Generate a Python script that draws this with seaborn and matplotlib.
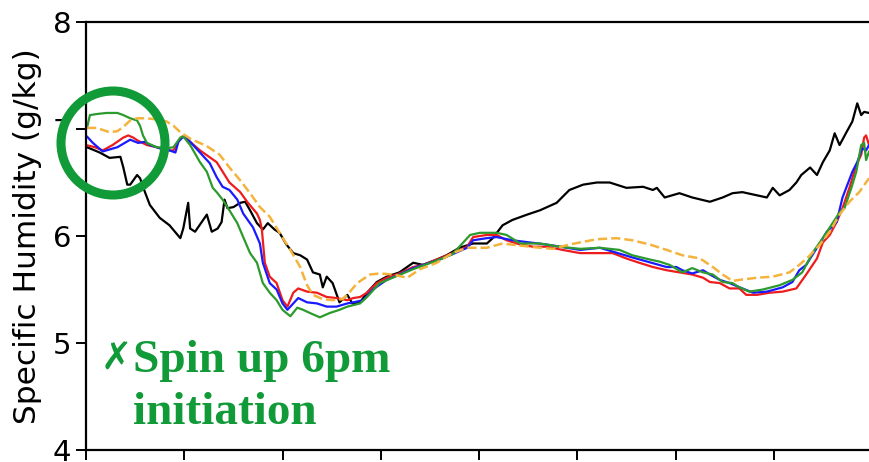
import matplotlib
matplotlib.use("Agg")
import matplotlib.pyplot as plt
from matplotlib.patches import Ellipse
import seaborn as sns
import pandas as pd

# Specific humidity (g/kg) against time (tick units)
obs_t = [0.00, 0.01, 0.14, 0.24, 0.35, 0.38, 0.42, 0.45, 0.52, 0.55, 0.60, 0.65, 0.75, 0.85,
         0.96, 0.99, 1.04, 1.06, 1.11, 1.23, 1.28, 1.34, 1.38, 1.41, 1.44, 1.50, 1.57, 1.62,
         1.67, 1.74, 1.80, 1.85, 1.92, 1.97, 2.04, 2.11, 2.18, 2.25, 2.31, 2.38, 2.41, 2.45,
         2.51, 2.58, 2.66, 2.71, 2.79, 2.86, 2.96, 3.06, 3.19, 3.33, 3.43, 3.57, 3.67, 3.80,
         3.94, 4.08, 4.14, 4.24, 4.34, 4.49, 4.62, 4.79, 4.92, 5.06, 5.20, 5.33, 5.50, 5.67,
         5.77, 5.81, 5.89, 6.04, 6.17, 6.35, 6.48, 6.58, 6.68, 6.83, 6.93, 6.99, 7.06, 7.16,
         7.23, 7.28, 7.37, 7.44, 7.50, 7.57, 7.62, 7.67, 7.74, 7.80, 7.85, 7.89, 7.92, 7.97]
obs_q = [6.82, 6.83, 6.78, 6.73, 6.74, 6.64, 6.48, 6.48, 6.57, 6.54, 6.41, 6.29, 6.17, 6.10,
         5.98, 6.07, 6.31, 6.07, 6.04, 6.20, 6.04, 6.07, 6.13, 6.34, 6.26, 6.27, 6.31, 6.32,
         6.24, 6.12, 6.06, 6.12, 6.06, 6.03, 5.92, 5.84, 5.82, 5.78, 5.66, 5.64, 5.52, 5.62,
         5.56, 5.38, 5.45, 5.37, 5.38, 5.47, 5.57, 5.62, 5.66, 5.75, 5.73, 5.78, 5.82, 5.89,
         5.93, 5.93, 5.98, 6.10, 6.15, 6.20, 6.24, 6.31, 6.43, 6.48, 6.50, 6.50, 6.45, 6.46,
         6.43, 6.45, 6.36, 6.40, 6.36, 6.32, 6.36, 6.40, 6.41, 6.38, 6.36, 6.45, 6.38, 6.43,
         6.50, 6.57, 6.64, 6.57, 6.69, 6.80, 6.96, 6.85, 6.97, 7.07, 7.24, 7.13, 7.16, 7.15]

red_t = [0.00, 0.09, 0.17, 0.27, 0.38, 0.43, 0.48, 0.53, 0.62, 0.72, 0.82, 0.89, 0.94, 0.98,
         1.01, 1.16, 1.33, 1.46, 1.57, 1.64, 1.74, 1.77, 1.79, 1.82, 1.87, 1.94, 2.00, 2.05,
         2.11, 2.16, 2.25, 2.35, 2.45, 2.55, 2.66, 2.72, 2.79, 2.86, 2.96, 3.06, 3.19, 3.33,
         3.43, 3.57, 3.73, 3.88, 3.94, 4.08, 4.18, 4.28, 4.42, 4.55, 4.69, 4.85, 5.03, 5.23,
         5.36, 5.50, 5.63, 5.77, 5.91, 6.04, 6.17, 6.28, 6.35, 6.45, 6.55, 6.65, 6.72, 6.83,
         6.96, 7.09, 7.23, 7.33, 7.44, 7.50, 7.57, 7.64, 7.70, 7.77, 7.84, 7.89, 7.92, 7.94, 7.97]
red_q = [6.85, 6.83, 6.80, 6.85, 6.92, 6.94, 6.92, 6.89, 6.85, 6.83, 6.80, 6.80, 6.88, 6.93,
         6.92, 6.80, 6.69, 6.50, 6.41, 6.32, 6.21, 6.15, 6.06, 5.75, 5.62, 5.56, 5.40, 5.34,
         5.47, 5.51, 5.48, 5.47, 5.43, 5.42, 5.40, 5.42, 5.43, 5.47, 5.56, 5.61, 5.65, 5.71,
         5.73, 5.78, 5.84, 5.90, 5.99, 6.01, 6.01, 5.96, 5.92, 5.90, 5.90, 5.87, 5.84, 5.84,
         5.84, 5.79, 5.75, 5.71, 5.68, 5.66, 5.64, 5.61, 5.57, 5.56, 5.51, 5.51, 5.45, 5.45,
         5.47, 5.48, 5.51, 5.64, 5.79, 5.94, 6.01, 6.13, 6.26, 6.45, 6.66, 6.76, 6.92, 6.94, 6.85]

blue_t = [0.01, 0.07, 0.17, 0.32, 0.45, 0.53, 0.60, 0.65, 0.75, 0.85, 0.91, 0.94, 0.98, 1.01,
          1.14, 1.26, 1.33, 1.39, 1.46, 1.54, 1.60, 1.70, 1.77, 1.80, 1.87, 1.94, 2.00, 2.05,
          2.11, 2.16, 2.25, 2.35, 2.45, 2.55, 2.66, 2.72, 2.82, 2.92, 3.06, 3.19, 3.33, 3.57,
          3.73, 3.88, 3.94, 4.08, 4.18, 4.34, 4.69, 5.03, 5.23, 5.56, 5.91, 6.01, 6.07, 6.17,
          6.28, 6.35, 6.45, 6.55, 6.68, 6.79, 6.93, 7.09, 7.19, 7.26, 7.33, 7.44, 7.54, 7.64,
          7.70, 7.80, 7.85, 7.90, 7.94, 7.97]
blue_q = [6.93, 6.87, 6.79, 6.83, 6.90, 6.87, 6.88, 6.85, 6.82, 6.80, 6.78, 6.88, 6.92, 6.93,
          6.80, 6.68, 6.55, 6.46, 6.43, 6.34, 6.21, 6.08, 5.93, 5.75, 5.56, 5.50, 5.37, 5.31,
          5.37, 5.42, 5.38, 5.37, 5.34, 5.34, 5.37, 5.38, 5.40, 5.50, 5.59, 5.64, 5.70, 5.77,
          5.83, 5.89, 5.96, 5.98, 5.99, 5.96, 5.92, 5.87, 5.89, 5.80, 5.71, 5.71, 5.68, 5.65,
          5.68, 5.64, 5.59, 5.56, 5.51, 5.47, 5.48, 5.52, 5.57, 5.68, 5.73, 5.89, 6.04, 6.13,
          6.36, 6.60, 6.69, 6.82, 6.80, 6.85]

green_t = [0.01, 0.04, 0.11, 0.21, 0.32, 0.38, 0.45, 0.52, 0.55, 0.58, 0.62, 0.72, 0.82, 0.89,
           0.96, 0.99, 1.06, 1.16, 1.23, 1.29, 1.33, 1.39, 1.46, 1.54, 1.60, 1.67, 1.74, 1.80,
           1.87, 1.94, 2.00, 2.08, 2.15, 2.21, 2.28, 2.38, 2.48, 2.58, 2.66, 2.79, 2.86, 2.99,
           3.12, 3.33, 3.57, 3.73, 3.91, 4.01, 4.18, 4.28, 4.42, 4.62, 4.82, 5.03, 5.23, 5.43,
           5.56, 5.74, 5.84, 5.94, 6.07, 6.17, 6.28, 6.38, 6.48, 6.58, 6.65, 6.75, 6.89, 7.06,
           7.19, 7.29, 7.40, 7.50, 7.57, 7.67, 7.72, 7.79, 7.84, 7.89, 7.92, 7.94, 7.97]
green_q = [7.01, 7.13, 7.14, 7.15, 7.15, 7.13, 7.10, 7.08, 7.03, 6.94, 6.87, 6.83, 6.82, 6.83,
           6.92, 6.93, 6.85, 6.69, 6.60, 6.45, 6.41, 6.34, 6.24, 6.12, 5.99, 5.84, 5.75, 5.56,
           5.47, 5.40, 5.31, 5.25, 5.33, 5.31, 5.28, 5.24, 5.28, 5.31, 5.34, 5.37, 5.43, 5.56,
           5.61, 5.69, 5.77, 5.83, 6.01, 6.03, 6.03, 6.01, 5.93, 5.93, 5.90, 5.88, 5.89, 5.87,
           5.82, 5.78, 5.76, 5.73, 5.66, 5.70, 5.66, 5.64, 5.57, 5.56, 5.52, 5.48, 5.50, 5.54,
           5.59, 5.66, 5.85, 5.98, 6.08, 6.22, 6.26, 6.45, 6.60, 6.85, 6.87, 6.71, 6.79]

orange_t = [0.01, 0.11, 0.24, 0.32, 0.38, 0.45, 0.52, 0.62, 0.72, 0.82, 0.89, 0.96, 1.06, 1.23,
            1.36, 1.46, 1.57, 1.67, 1.77, 1.87, 1.97, 2.08, 2.18, 2.25, 2.31, 2.41, 2.51, 2.61,
            2.66, 2.76, 2.89, 2.99, 3.12, 3.27, 3.40, 3.57, 3.73, 3.88, 4.08, 4.24, 4.42, 4.62,
            4.75, 4.92, 5.03, 5.20, 5.40, 5.56, 5.74, 5.91, 6.07, 6.25, 6.38, 6.48, 6.58, 6.65,
            6.83, 6.99, 7.16, 7.26, 7.37, 7.47, 7.57, 7.67, 7.77, 7.87, 7.97]
orange_q = [7.01, 7.01, 6.97, 6.98, 7.02, 7.08, 7.10, 7.10, 7.09, 7.07, 7.03, 6.97, 6.91, 6.84,
            6.76, 6.64, 6.52, 6.40, 6.27, 6.18, 6.03, 5.87, 5.71, 5.54, 5.45, 5.41, 5.40, 5.41,
            5.45, 5.56, 5.64, 5.65, 5.64, 5.61, 5.69, 5.75, 5.84, 5.89, 5.89, 5.93, 5.91, 5.89,
            5.88, 5.92, 5.94, 5.97, 5.98, 5.96, 5.92, 5.87, 5.82, 5.79, 5.71, 5.64, 5.58, 5.59,
            5.61, 5.62, 5.66, 5.73, 5.82, 5.92, 6.04, 6.20, 6.32, 6.41, 6.54]

y_ticks = [4, 5, 6, 7, 8]
x_ticks = [0, 1, 2, 3, 4, 5, 6, 7, 8]
y_label = "Specific Humidity (g/kg)"
note_mark = "\u2717"
note_lines = ["Spin up 6pm", "initiation"]

sns.set_style("ticks")
plt.rcParams["font.family"] = ["DejaVu Sans"]
plt.rcParams["text.color"] = "black"
plt.rcParams["axes.labelcolor"] = "black"
plt.rcParams["ytick.color"] = "black"
plt.rcParams["xtick.color"] = "black"

W, H = 869, 462
fig = plt.figure(figsize=(W / 100, H / 100), dpi=100)
ax = fig.add_axes([86 / W, 12 / H, 786 / W, 428 / H])

series = [
    (obs_t, obs_q, "black", "-", 1.6),
    (red_t, red_q, "#ee1c1c", "-", 1.6),
    (blue_t, blue_q, "#1a1aff", "-", 1.6),
    (green_t, green_q, "#2c9a2c", "-", 1.6),
    (orange_t, orange_q, "#f3b33d", "--", 1.8),
]
for t, q, col, ls, lw in series:
    df = pd.DataFrame({"t": t, "q": q})
    sns.lineplot(data=df, x="t", y="q", ax=ax, color=col, linestyle=ls,
                 linewidth=lw, estimator=None, sort=False)

ax.set_xlim(0, 8)
ax.set_ylim(4, 8)
ax.set_xticks(x_ticks)
ax.set_xticklabels([])
ax.set_yticks(y_ticks)
ax.set_yticklabels([str(v) for v in y_ticks], fontsize=21, color="black")
ax.set_xlabel("")
ax.set_ylabel(y_label, fontsize=22.5, labelpad=8, color="black")
ax.tick_params(axis="both", length=7, width=1.4, color="black")
for side in ["left", "bottom", "top", "right"]:
    ax.spines[side].set_linewidth(1.6)
    ax.spines[side].set_color("black")

green_note = "#119a38"
circle = Ellipse((113 / W, 1 - 143 / H), 104 / W, 104 / H, transform=fig.transFigure,
                 fill=False, edgecolor=green_note, linewidth=6.5, zorder=10)
fig.patches.append(circle)

fig.text(101 / W, 1 - 370 / H, note_mark, color=green_note, fontsize=27,
         family=["DejaVu Sans"], weight="bold", va="baseline", ha="left")
fig.text(133 / W, 1 - 372 / H, note_lines[0], color=green_note, fontsize=34,
         family=["Liberation Serif"], weight="bold", va="baseline", ha="left")
fig.text(133 / W, 1 - 424 / H, note_lines[1], color=green_note, fontsize=34,
         family=["Liberation Serif"], weight="bold", va="baseline", ha="left")

fig.savefig("out.png", dpi=100)
